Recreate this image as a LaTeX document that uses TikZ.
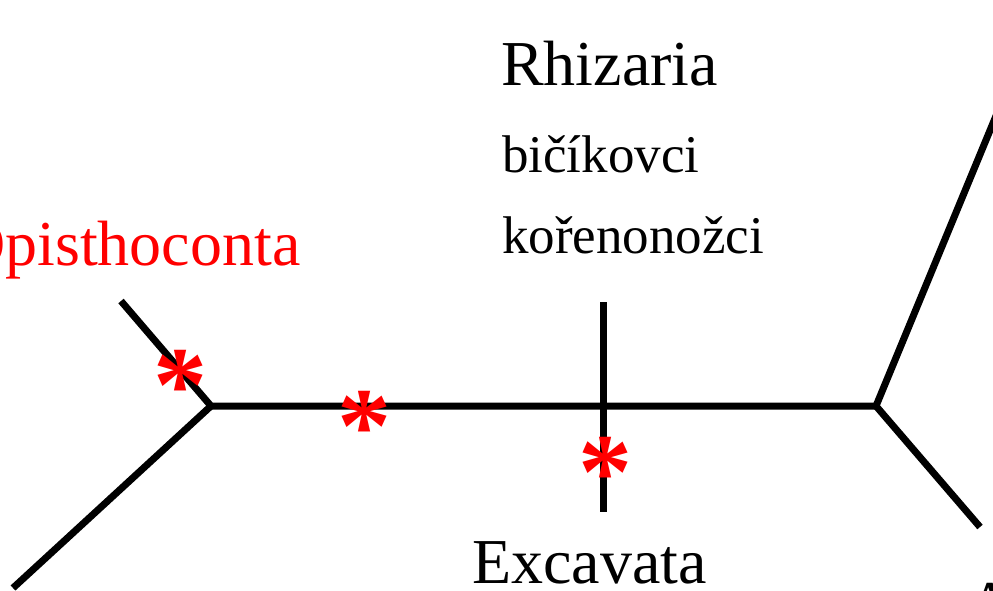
\documentclass[tikz,border=0pt]{standalone}
\usepackage{fontspec}
\setmainfont{Liberation Serif}
\usepackage{xcolor}
\definecolor{hvezda}{RGB}{255, 0, 0}
\definecolor{vetev}{RGB}{0, 0, 0}

\begin{document}
\begin{tikzpicture}[x=1pt, y=1pt,
        branch/.style={draw=vetev, line width=7pt},
        taxon/.style={inner sep=0pt, anchor=base west, font=\fontsize{64}{70}\selectfont},
        skupina/.style={inner sep=0pt, anchor=base west, font=\fontsize{53}{58}\selectfont},
        hvezdicka/.style={inner sep=0pt, text=hvezda, font=\bfseries\fontsize{108}{110}\selectfont}]
        \clip (0, 0) rectangle (993, -590);
        % uzly stromu
        \coordinate (l) at (211, -406);
        \coordinate (r) at (876, -406);
        \coordinate (x) at (603, -406);
        \coordinate (o) at (121, -301);
        \coordinate (ll) at (13, -588);
        \coordinate (xt) at (603, -302);
        \coordinate (xb) at (603, -512);
        \coordinate (ru) at (1010, -82);
        \coordinate (rd) at (980, -527);
        \draw[branch] (o) -- (l) -- (r);
        \draw[branch] (l) -- (ll);
        \draw[branch] (xt) -- (xb);
        \draw[branch] (ru) -- (r) -- (rd);
        % popisky
        \node[taxon, text=hvezda] (opis) at (-41, -265) {Opisthoconta};
        \node[taxon] (rhiz) at (501, -85) {Rhizaria};
        \node[skupina] (bici) at (502, -172) {bičíkovci};
        \node[skupina] (kore) at (502, -253) {kořenonožci};
        \node[taxon] (exca) at (472, -583) {Excavata};
        \node[taxon] (arch) at (967, -625) {A};
        % hvezdicky
        \node[hvezdicka] (s1) at (180, -386) {*};
        \node[hvezdicka] (s2) at (364, -427) {*};
        \node[hvezdicka] (s3) at (605, -473) {*};
\end{tikzpicture}
\end{document}
